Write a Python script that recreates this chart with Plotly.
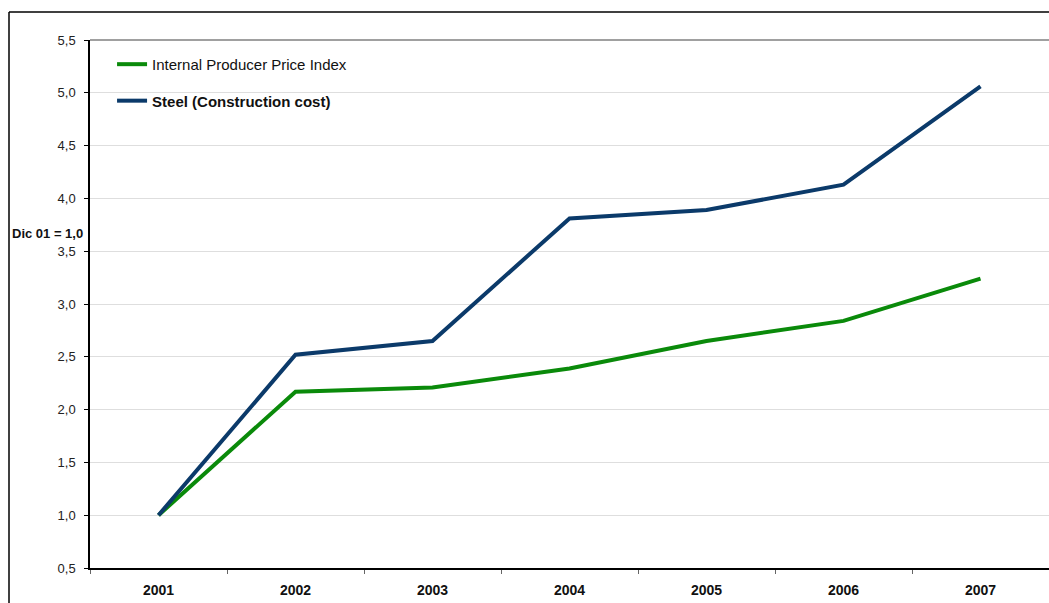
import plotly.graph_objects as go

years = ["2001", "2002", "2003", "2004", "2005", "2006", "2007"]
ppi = [1.0, 2.17, 2.21, 2.39, 2.65, 2.84, 3.24]
steel = [1.0, 2.52, 2.65, 3.81, 3.89, 4.13, 5.06]
y_ticks = [0.5, 1.0, 1.5, 2.0, 2.5, 3.0, 3.5, 4.0, 4.5, 5.0, 5.5]

FONT = "Liberation Sans, Arial, sans-serif"

fig = go.Figure()
fig.add_trace(go.Scatter(x=years, y=ppi, mode="lines", name="Internal Producer Price Index",
                         line=dict(color="#0a8a0a", width=4), legendgroup="a"))
fig.add_trace(go.Scatter(x=years, y=steel, mode="lines", name="<b>Steel (Construction cost)</b>",
                         line=dict(color="#0b3a6a", width=4), legendgroup="b"))

W, H = 1049, 603
L, R, T, B = 90, 0, 40, 35
pw, ph = W - L - R, H - T - B

fig.update_layout(
    width=W, height=H,
    margin=dict(l=L, r=R, t=T, b=B),
    paper_bgcolor="white", plot_bgcolor="white",
    font=dict(family=FONT, size=13, color="#222"),
    separators=",.",
    showlegend=True,
    legend=dict(x=0.023, y=0.985, xanchor="left", yanchor="top",
                bgcolor="rgba(0,0,0,0)", font=dict(size=15, color="#111"),
                traceorder="grouped", tracegroupgap=14, itemwidth=30),
    xaxis=dict(type="category", range=[-0.5, 6.5], showgrid=False,
               showline=True, linecolor="black", linewidth=1.5,
               ticks="outside", tickson="boundaries", ticklen=4, tickcolor="#666",
               tickfont=dict(size=14, color="#111", family=FONT),
               ticklabelstandoff=8,
               tickprefix="<b>", ticksuffix="</b>", fixedrange=True),
    yaxis=dict(range=[0.5, 5.5], tickvals=y_ticks, tickformat=".1f",
               showgrid=True, gridcolor="#dedede", gridwidth=1,
               showline=True, linecolor="black", linewidth=1.5,
               ticks="outside", ticklen=4, tickcolor="black",
               ticklabelstandoff=6,
               tickfont=dict(size=13, color="#222"), zeroline=False),
)

# top plot border (gray)
fig.add_shape(type="line", xref="paper", yref="paper", x0=0, x1=1, y0=1, y1=1,
              line=dict(color="#808080", width=1.5))
# outer chart border (left and top)
bx = (9 - L) / pw
by = 1 + (T - 12) / ph
fig.add_shape(type="line", xref="paper", yref="paper", x0=bx, x1=1.01, y0=by, y1=by,
              line=dict(color="black", width=1.5))
fig.add_shape(type="line", xref="paper", yref="paper", x0=bx, x1=bx, y0=by, y1=-0.1,
              line=dict(color="black", width=1.5))

fig.add_annotation(text="<b>Dic 01 = 1,0</b>", xref="paper", yref="y", x=(10 - L) / pw, y=3.67,
                   xanchor="left", yanchor="middle", showarrow=False,
                   font=dict(size=13, color="#111", family=FONT))

fig.write_html("out.html")
